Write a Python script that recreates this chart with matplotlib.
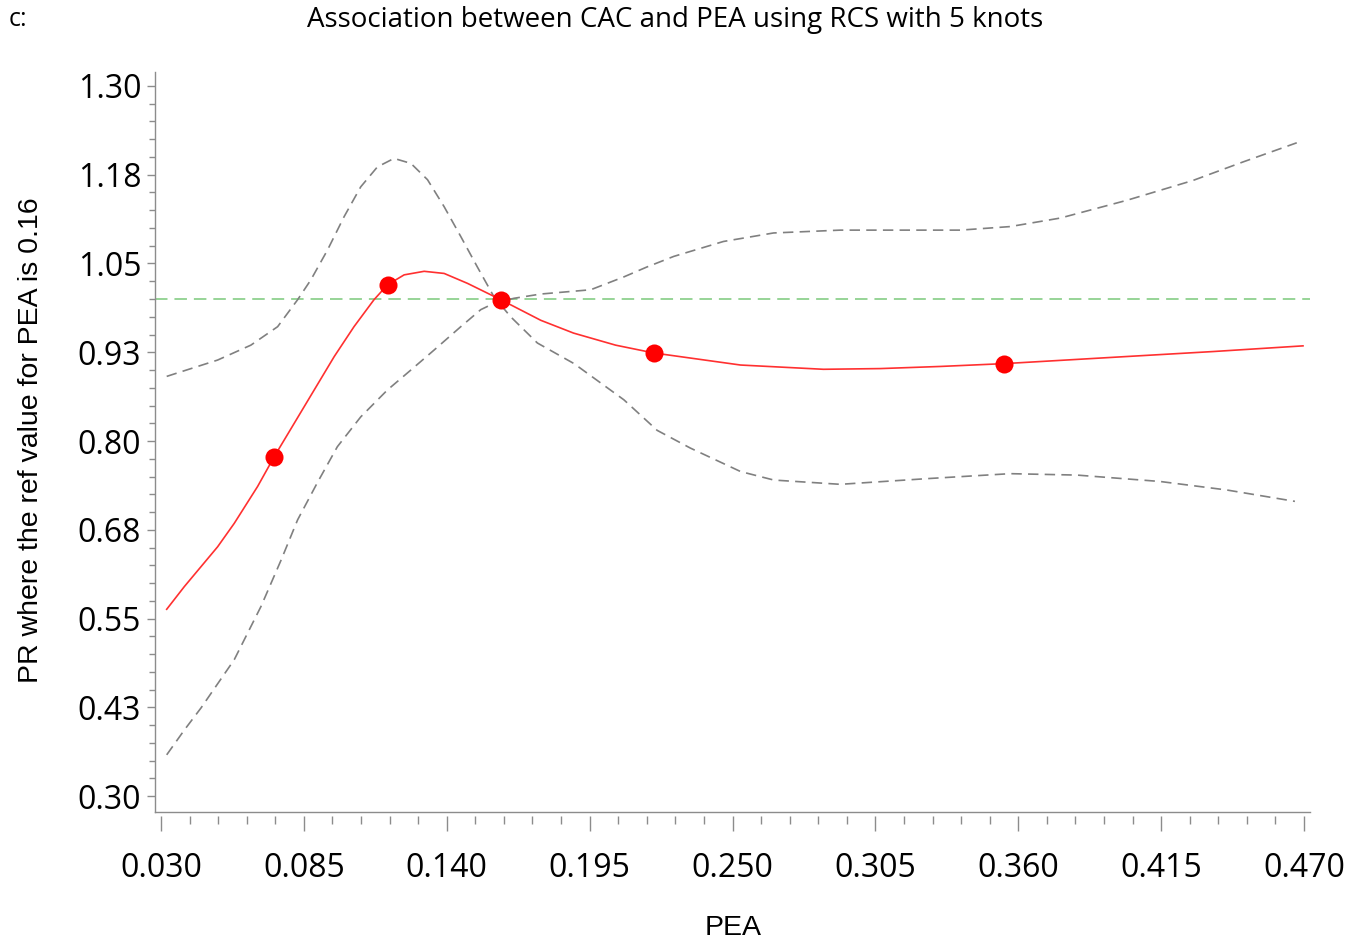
import matplotlib
matplotlib.use("Agg")
import matplotlib.pyplot as plt
from matplotlib.ticker import MultipleLocator, FixedLocator

plt.rcParams['lines.scale_dashes'] = False

# ---- data ----
pea = [0.0322, 0.0390, 0.0454, 0.0518, 0.0582, 0.0672, 0.0736, 0.0813, 0.0890,
       0.0967, 0.1043, 0.1120, 0.1172, 0.1236, 0.1313, 0.1390, 0.1480, 0.1608,
       0.1762, 0.1888, 0.2050, 0.2197, 0.2531, 0.2850, 0.3069, 0.3300, 0.3547,
       0.4018, 0.4350, 0.4696]
pr = [0.563, 0.595, 0.623, 0.651, 0.684, 0.736, 0.778, 0.825, 0.872,
      0.919, 0.961, 0.999, 1.020, 1.034, 1.039, 1.036, 1.022, 0.999,
      0.970, 0.952, 0.935, 0.924, 0.907, 0.901, 0.902, 0.905, 0.909,
      0.919, 0.926, 0.934]

ci1_x = [0.0322, 0.0390, 0.0518, 0.0646, 0.0749, 0.0826, 0.0877, 0.0941, 0.1005,
         0.1069, 0.1133, 0.1197, 0.1262, 0.1326, 0.1390, 0.1454, 0.1518, 0.1582,
         0.1646, 0.1749, 0.1890, 0.2082, 0.2210, 0.2338, 0.2531, 0.2659, 0.2915,
         0.3249, 0.3569, 0.3826, 0.4146, 0.4403, 0.4665]
ci1_y = [0.891, 0.899, 0.914, 0.935, 0.961, 0.999, 1.027, 1.069, 1.116,
         1.158, 1.186, 1.198, 1.191, 1.168, 1.130, 1.088, 1.045, 1.003,
         0.975, 0.938, 0.909, 0.858, 0.815, 0.790, 0.757, 0.745, 0.739,
         0.747, 0.754, 0.752, 0.743, 0.731, 0.715]

ci2_x = [0.0322, 0.0390, 0.0454, 0.0582, 0.0685, 0.0762, 0.0826, 0.0903, 0.0979,
         0.1069, 0.1172, 0.1262, 0.1351, 0.1454, 0.1531, 0.1582, 0.1659, 0.1762,
         0.1954, 0.2081, 0.2170, 0.2274, 0.2465, 0.2658, 0.2915, 0.3377, 0.3569,
         0.3762, 0.4018, 0.4273, 0.4465, 0.4672]
ci2_y = [0.358, 0.393, 0.424, 0.492, 0.567, 0.632, 0.689, 0.742, 0.792,
         0.834, 0.872, 0.900, 0.928, 0.961, 0.985, 0.994, 1.001, 1.007,
         1.013, 1.031, 1.045, 1.060, 1.081, 1.093, 1.097, 1.097, 1.102,
         1.114, 1.139, 1.167, 1.193, 1.220]

knots_x = [0.0736, 0.1172, 0.1608, 0.2197, 0.3547]
knots_y = [0.778, 1.020, 0.999, 0.924, 0.909]

ref_pr = 1.0

x_ticks = [0.030, 0.085, 0.140, 0.195, 0.250, 0.305, 0.360, 0.415, 0.470]
x_labels = ["0.030", "0.085", "0.140", "0.195", "0.250", "0.305", "0.360", "0.415", "0.470"]
y_ticks = [0.300, 0.425, 0.550, 0.675, 0.800, 0.925, 1.050, 1.175, 1.300]
y_labels = ["0.30", "0.43", "0.55", "0.68", "0.80", "0.93", "1.05", "1.18", "1.30"]

title = "Association between CAC and PEA using RCS with 5 knots"
xlabel = "PEA"
ylabel = "PR where the ref value for PEA is 0.16"

# ---- figure ----
W, H = 1364, 946
fig = plt.figure(figsize=(W / 100, H / 100), dpi=100)
ax = fig.add_axes([155 / W, 1 - 812 / H, (1310 - 155) / W, (812 - 72) / H])

ax.set_xlim(0.0277, 0.4723)
ax.set_ylim(0.2775, 1.3197)

axis_col = "#8c8c8c"

ax.axhline(ref_pr, color="#8fd18f", lw=1.3, dashes=(9, 5), zorder=1)
ax.plot(ci1_x, ci1_y, color="#808080", lw=1.2, dashes=(7.5, 4.5), zorder=2)
ax.plot(ci2_x, ci2_y, color="#808080", lw=1.2, dashes=(7.5, 4.5), zorder=2)
ax.plot(pea, pr, color="#ff3030", lw=1.2, zorder=3)
ax.plot(knots_x, knots_y, "o", color="#ff0000", ms=13, mec="none", zorder=4)

for s in ["top", "right"]:
    ax.spines[s].set_visible(False)
ax.spines["left"].set_color(axis_col)
ax.spines["left"].set_linewidth(1.0)
ax.spines["bottom"].set_position(("outward", 3))
ax.spines["bottom"].set_visible(False)
ax.plot([0, 1], [0, 0], transform=ax.transAxes, color=axis_col, lw=1.0, clip_on=False)

ax.xaxis.set_major_locator(FixedLocator(x_ticks))
ax.set_xticklabels(x_labels)
ax.xaxis.set_minor_locator(MultipleLocator(0.011, offset=0.030))
ax.yaxis.set_major_locator(FixedLocator(y_ticks))
ax.set_yticklabels(y_labels)
ax.yaxis.set_minor_locator(MultipleLocator(0.025))

ax.tick_params(axis="x", which="major", length=11, width=1.0, color=axis_col,
               labelsize=23, pad=15)
ax.tick_params(axis="x", which="minor", length=6, width=1.0, color=axis_col)
ax.tick_params(axis="y", which="major", length=6, width=1.0, color=axis_col,
               labelsize=23, pad=4)
ax.tick_params(axis="y", which="minor", length=4, width=1.0, color=axis_col)
for lab in ax.get_xticklabels() + ax.get_yticklabels():
    lab.set_family("Open Sans")

fig.text(733 / W, 1 - 928 / H, xlabel, family="Liberation Sans", fontsize=20.5,
         ha="center", va="center")
fig.text(31 / W, 1 - 440 / H, ylabel, family="Liberation Sans", fontsize=20.5,
         ha="center", va="center", rotation=90)

fig.text(675 / W, 1 - 20 / H, title, family="Open Sans", fontsize=20,
         ha="center", va="center")
fig.text(9 / W, 1 - 20 / H, "c:", family="Open Sans", fontsize=18,
         ha="left", va="center")

fig.savefig("out.png", dpi=100, facecolor="white")
